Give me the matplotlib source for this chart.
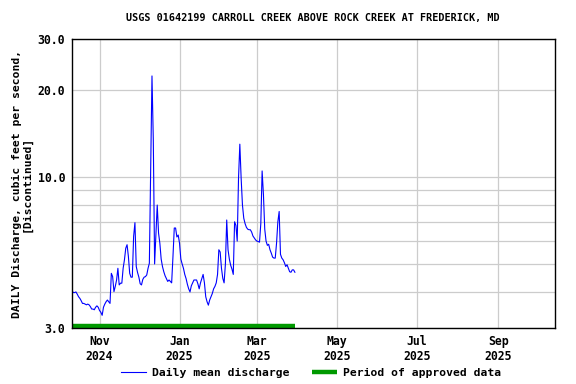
import matplotlib
matplotlib.use("Agg")
import matplotlib.pyplot as plt
import matplotlib.transforms as mtransforms
from matplotlib.ticker import FixedLocator, NullLocator
import pandas as pd

# daily mean discharge, cfs, starting 2024-10-11
start_date = "2024-10-11"
discharge = [
    4.04, 3.98, 3.98, 4.00, 3.93, 3.85, 3.80, 3.73, 3.65, 3.65,
    3.63, 3.61, 3.63, 3.61, 3.56, 3.49, 3.49, 3.47, 3.54, 3.58,
    3.54, 3.45, 3.40, 3.32, 3.54, 3.63, 3.70, 3.75, 3.70, 3.65,
    4.64, 4.52, 4.01, 4.18, 4.40, 4.83, 4.23, 4.29, 4.29, 4.83,
    5.17, 5.67, 5.83, 5.31, 4.64, 4.50, 4.50, 6.23, 6.95, 4.90,
    4.67, 4.50, 4.27, 4.23, 4.42, 4.50, 4.52, 4.58, 4.83, 5.03,
    10.6, 22.4, 13.5, 5.00, 6.30, 8.00, 6.40, 5.90, 5.20, 4.90,
    4.70, 4.55, 4.45, 4.35, 4.40, 4.35, 4.30, 5.30, 6.66, 6.66,
    6.20, 6.30, 5.90, 5.20, 5.00, 4.83, 4.60, 4.45, 4.25, 4.10,
    4.00, 4.20, 4.30, 4.40, 4.40, 4.40, 4.27, 4.10, 4.30, 4.45,
    4.60, 4.30, 3.85, 3.70, 3.60, 3.75, 3.85, 3.95, 4.10, 4.18,
    4.30, 4.60, 5.60, 5.50, 4.83, 4.46, 4.30, 5.00, 7.10, 5.60,
    5.20, 4.95, 4.80, 4.60, 7.00, 6.80, 6.00, 9.90, 13.0, 9.90,
    8.00, 7.20, 6.90, 6.70, 6.60, 6.57, 6.57, 6.45, 6.25, 6.15,
    6.06, 6.00, 5.98, 5.95, 6.90, 10.5, 8.70, 6.60, 6.00, 5.80,
    5.85, 5.60, 5.45, 5.28, 5.24, 5.24, 5.90, 7.00, 7.60, 5.40,
    5.24, 5.17, 5.05, 4.90, 4.97, 4.83, 4.70, 4.68, 4.77, 4.77,
    4.68,
]
dates = pd.date_range(start_date, periods=len(discharge), freq="D")

tick_dates = ["2024-11-01", "2025-01-01", "2025-03-01", "2025-05-01", "2025-07-01", "2025-09-01"]
tick_labels = ["Nov\n2024", "Jan\n2025", "Mar\n2025", "May\n2025", "Jul\n2025", "Sep\n2025"]
y_labels = [3, 10, 20, 30]
y_grid = [3, 4, 5, 6, 7, 8, 9, 10, 20, 30]

plt.rcParams["font.family"] = "DejaVu Sans Mono"
plt.rcParams["font.weight"] = "bold"

fig = plt.figure(figsize=(5.76, 3.84), dpi=100)
ax = fig.add_axes([0.125, 0.1458, 0.8377, 0.7518])

ax.plot(dates, discharge, color="#0000ff", lw=0.8, label="Daily mean discharge")

# approved-data bar along the bottom
trans = mtransforms.blended_transform_factory(ax.transData, ax.transAxes)
ax.plot([dates[0], dates[-1]], [0.008, 0.008], color="#009900", lw=3.2,
        solid_capstyle="butt", transform=trans, clip_on=False,
        label="Period of approved data")

ax.set_yscale("log")
ax.set_ylim(3, 30)
ax.yaxis.set_major_locator(FixedLocator(y_grid))
ax.yaxis.set_minor_locator(NullLocator())
ax.set_yticks(y_grid)
ax.set_yticklabels([f"{v:.1f}" if v in y_labels else "" for v in y_grid])

ax.set_xlim(pd.Timestamp("2024-10-11"), pd.Timestamp("2025-10-14"))
ax.set_xticks(pd.to_datetime(tick_dates))
ax.set_xticklabels(tick_labels)
ax.xaxis.set_minor_locator(NullLocator())

ax.grid(True, color="#cccccc", lw=0.9)
ax.set_axisbelow(True)
ax.tick_params(length=0, labelsize=8.3, pad=5)
for s in ax.spines.values():
    s.set_linewidth(1.0)
    s.set_color("black")

ax.set_title("USGS 01642199 CARROLL CREEK ABOVE ROCK CREEK AT FREDERICK, MD",
             fontsize=7.3, fontweight="bold", pad=13)
ax.set_ylabel("DAILY Discharge, cubic feet per second,\n[Discontinued]",
              fontsize=8.2, fontweight="bold", linespacing=0.95)

fig.legend(loc="lower center", bbox_to_anchor=(0.54, -0.01), ncol=2, frameon=False,
           fontsize=8.2, handlelength=2.2, columnspacing=2.0, handletextpad=0.5)

fig.savefig("out.png", dpi=100)
